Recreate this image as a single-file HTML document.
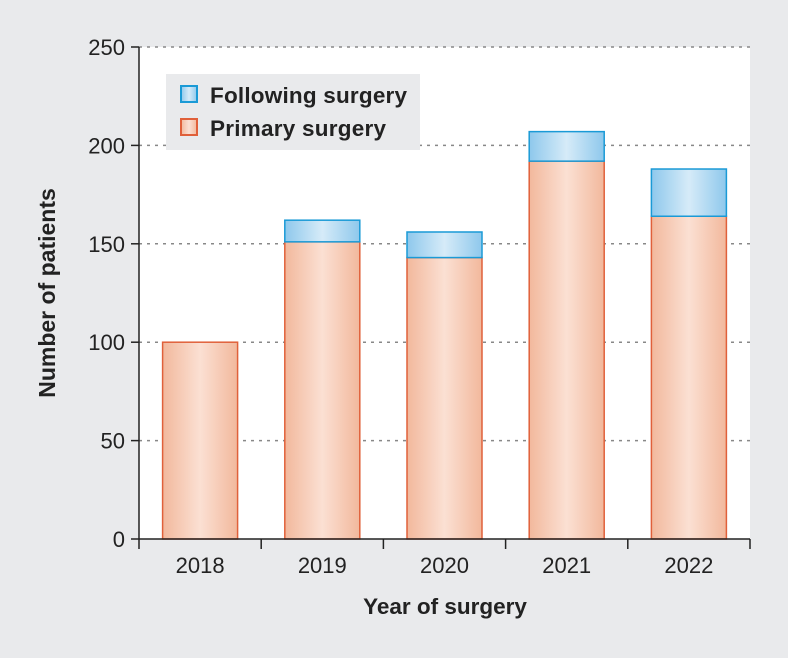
<!DOCTYPE html>
<html><head><meta charset="utf-8"><style>
html,body{margin:0;padding:0;background:#e9eaec;}
svg{display:block;font-family:"Liberation Sans","DejaVu Sans",sans-serif;}
</style></head><body>
<svg id="chart" width="788" height="658" viewBox="0 0 788 658">
<defs>
<linearGradient id="gPrim" x1="0" x2="1" y1="0" y2="0">
<stop offset="0" stop-color="#f2b89c"/><stop offset="0.5" stop-color="#fbe0d3"/><stop offset="1" stop-color="#f2b89c"/></linearGradient>
<linearGradient id="gFol" x1="0" x2="1" y1="0" y2="0">
<stop offset="0" stop-color="#8ec8ec"/><stop offset="0.5" stop-color="#d6ebf8"/><stop offset="1" stop-color="#8ec8ec"/></linearGradient>
</defs>
<rect x="139" y="47" width="611" height="492" fill="#ffffff"/>
<g id="grid"></g>
<g id="bars"></g>
<g id="axes"></g>
<g>
<rect x="166" y="74" width="254" height="76" fill="#e9eaec"/>
<rect x="181" y="86" width="16" height="16" fill="url(#gFol)" stroke="#1a9ad6" stroke-width="2"/>
<text x="210" y="103" font-size="22.5" font-weight="bold" fill="#222" textLength="197">Following surgery</text>
<rect x="181" y="119" width="16" height="16" fill="url(#gPrim)" stroke="#e0603a" stroke-width="2"/>
<text x="210" y="136" font-size="22.5" font-weight="bold" fill="#222" textLength="176">Primary surgery</text>
</g>
<text x="445" y="614" font-size="22.5" font-weight="bold" fill="#222" text-anchor="middle">Year of surgery</text>
<text transform="translate(55,293) rotate(-90)" font-size="23" font-weight="bold" fill="#222" text-anchor="middle">Number of patients</text>
</svg>
<script>
const categories = ["2018","2019","2020","2021","2022"];
const primaryValues = [100,151,143,192,164];
const followingValues = [0,11,13,15,24];
const yTicks = [0,50,100,150,200,250];
const NS="http://www.w3.org/2000/svg";
const X0=139,X1=750,Y0=539,Y1=47,YMAX=250;
const bw=(X1-X0)/categories.length;
function y(v){return Y0-(v/YMAX)*(Y0-Y1);}
function xc(i){return X0+bw*(i+0.5);}
function mk(tag,attrs,parent){const e=document.createElementNS(NS,tag);for(const k in attrs)e.setAttribute(k,attrs[k]);parent.appendChild(e);return e;}
const grid=document.getElementById('grid'),bars=document.getElementById('bars'),axes=document.getElementById('axes');
yTicks.forEach(t=>{
  if(t>0){const l=mk('line',{x1:X0,x2:X1,y1:y(t),y2:y(t),stroke:'#888','stroke-width':1.5,'stroke-dasharray':'3 5'},grid);
  
  }
  const tk=mk('line',{x1:X0-8,x2:X0,y1:y(t),y2:y(t),stroke:'#222','stroke-width':1.5},axes);
  
  
  const tx=mk('text',{x:X0-14,y:y(t)+8,'font-size':22,'text-anchor':'end',fill:'#222'},axes);
  tx.textContent=t;
  
  
});
const bwid=75;
categories.forEach((c,i)=>{
  const p=primaryValues[i],f=followingValues[i];
  const r1=mk('rect',{x:xc(i)-bwid/2,y:y(p),width:bwid,height:y(0)-y(p),fill:'url(#gPrim)',stroke:'#e0603a','stroke-width':1.5},bars);
  
  
  if(f>0){const r2=mk('rect',{x:xc(i)-bwid/2,y:y(p+f),width:bwid,height:y(p)-y(p+f),fill:'url(#gFol)',stroke:'#1a9ad6','stroke-width':1.5},bars);
  
  }
  const tx=mk('text',{x:xc(i),y:Y0+34,'font-size':22,'text-anchor':'middle',fill:'#222'},axes);
  tx.textContent=c;
  
  
});
for(let i=0;i<=categories.length;i++){
  const tk=mk('line',{x1:X0+bw*i,x2:X0+bw*i,y1:Y0,y2:Y0+10,stroke:'#222','stroke-width':1.5},axes);
  
  
}
const ya=mk('line',{x1:X0,x2:X0,y1:Y1,y2:Y0,stroke:'#222','stroke-width':1.5},axes);


const xa=mk('line',{x1:X0,x2:X1,y1:Y0,y2:Y0,stroke:'#222','stroke-width':1.5},axes);


</script>
</body></html>
